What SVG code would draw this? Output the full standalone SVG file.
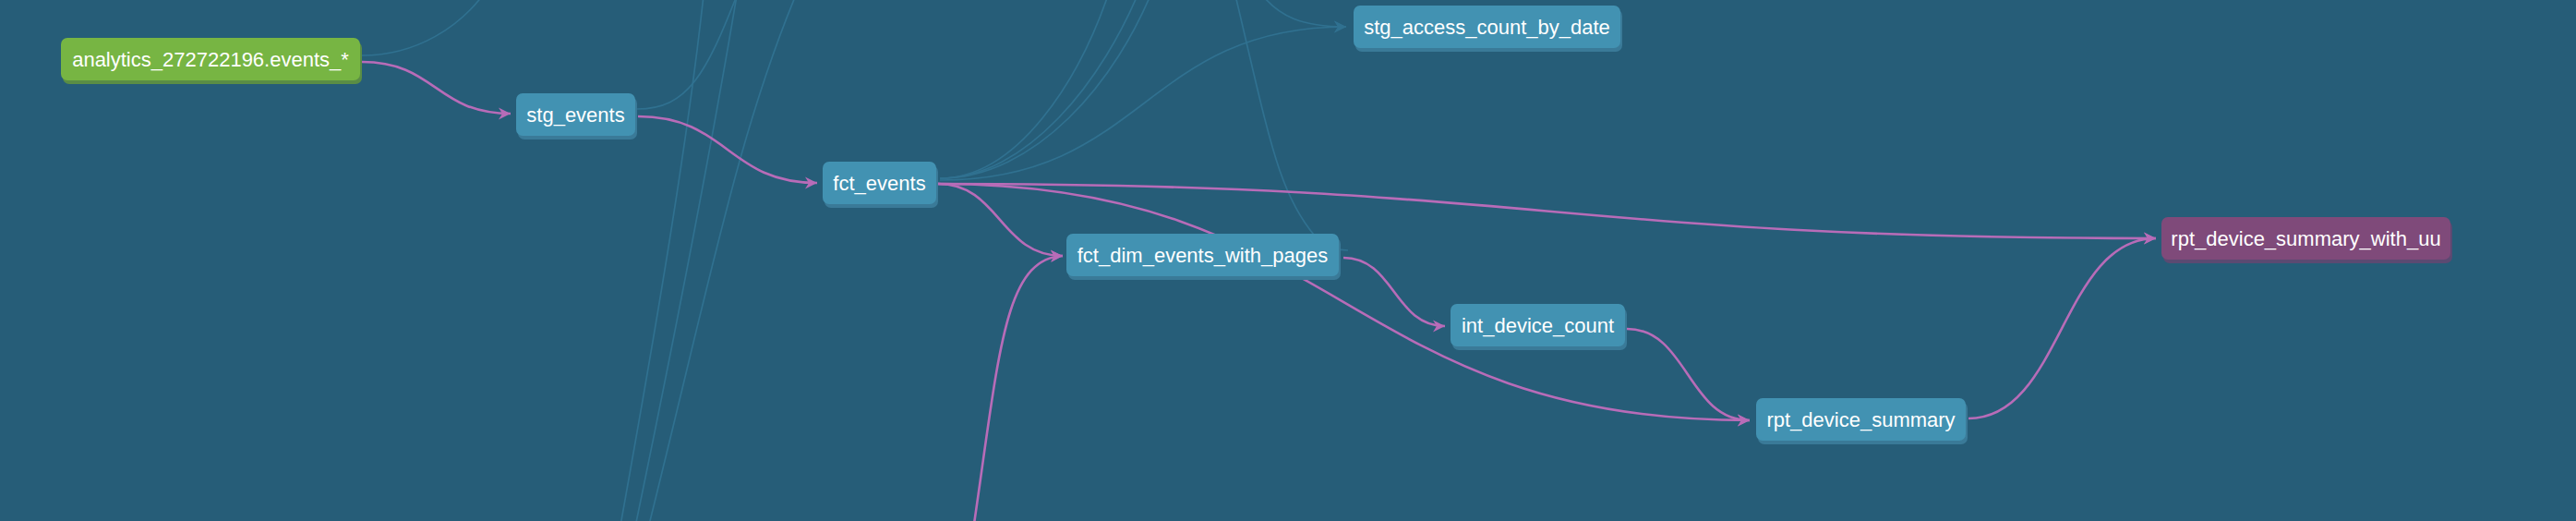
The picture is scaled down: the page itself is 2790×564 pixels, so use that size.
<svg xmlns="http://www.w3.org/2000/svg" width="2790" height="564" viewBox="0 0 2790 564">
<defs>
<style>
.bg{fill:#265D78}
.faint{fill:none;stroke:#307190;stroke-width:1.7}
.pink{fill:none;stroke:#B86CB8;stroke-width:2.6}
.nb{fill:#4292B2}
.nbs{fill:#3A7A98}
.ng{fill:#77B543}
.ngs{fill:#5A8D45}
.np{fill:#7F4A7A}
.nps{fill:#5B4A72}
.lbl{font-family:"Liberation Sans",Arial,sans-serif;font-size:22px;fill:#FFFFFF;text-anchor:middle}
</style>
<marker id="arrowPink" markerUnits="userSpaceOnUse" markerWidth="18" markerHeight="18" viewBox="-15 -9 18 18" refX="0" refY="0" orient="auto">
<path d="M-13,-6.5 L0,0 L-13,6.5 L-9,0 Z" fill="#B86CB8"/>
</marker>
<marker id="arrowFaint" markerUnits="userSpaceOnUse" markerWidth="18" markerHeight="18" viewBox="-15 -9 18 18" refX="0" refY="0" orient="auto">
<path d="M-13,-6.5 L0,0 L-13,6.5 L-9,0 Z" fill="#307190"/>
</marker>
</defs>
<rect class="bg" x="0" y="0" width="2790" height="564"/>

<g id="connectors">
<g id="faint-connectors">
<path class="faint" d="M392,60 C450,60 500,30 530,-15"/>
<path class="faint" d="M690,118 C745,118 765,80 800,-10"/>
<path class="faint" d="M762,-5 C745,150 715,330 670,580"/>
<path class="faint" d="M798,-5 C772,150 740,320 686,580"/>
<path class="faint" d="M866,-15 C800,140 770,300 700,580"/>
<path class="faint" d="M1018,193 C1100,193 1170,90 1205,-20"/>
<path class="faint" d="M1018,193 C1110,193 1195,90 1238,-20"/>
<path class="faint" d="M1018,193 C1120,193 1210,90 1252,-20"/>
<path class="faint" d="M1018,195 C1239,195 1239,29 1458,29" marker-end="url(#arrowFaint)"/>
<path class="faint" d="M1365,-8 C1385,18 1410,29 1458,29" marker-end="url(#arrowFaint)"/>
<path class="faint" d="M1338,-5 C1375,150 1385,215 1430,262 Q1445,271 1460,271"/>
</g>
<g id="lineage-connectors">
<path class="pink" d="M392,67 C472,67 472,123 553,123" marker-end="url(#arrowPink)"/>
<path class="pink" d="M691,126 C788,126 788,198 885,198" marker-end="url(#arrowPink)"/>
<path class="pink" d="M1016,199 C1675,199 1675,258 2335,258" marker-end="url(#arrowPink)"/>
<path class="pink" d="M1016,199 C1083,199 1083,277 1151,277" marker-end="url(#arrowPink)"/>
<path class="pink" d="M1016,199 C1455,199 1455,455 1895,455" marker-end="url(#arrowPink)"/>
<path class="pink" d="M1455,279 C1510,279 1510,353 1565,353" marker-end="url(#arrowPink)"/>
<path class="pink" d="M1762,356 C1828,356 1828,455 1895,455" marker-end="url(#arrowPink)"/>
<path class="pink" d="M2132,453 C2233,453 2233,258 2335,258" marker-end="url(#arrowPink)"/>
<path class="pink" d="M1051,594 C1082,390 1085,280 1151,277" marker-end="url(#arrowPink)"/>
</g>
</g>

<g id="node-analytics">
<rect class="ngs" x="68" y="45" width="324" height="46" rx="7"/>
<rect class="ng" x="66" y="41" width="324" height="46" rx="7"/>
<text class="lbl" x="228" y="72">analytics_272722196.events_*</text>
</g>
<g id="node-stg_events">
<rect class="nbs" x="561" y="105" width="129" height="46" rx="7"/>
<rect class="nb" x="559" y="101" width="129" height="46" rx="7"/>
<text class="lbl" x="623.5" y="132">stg_events</text>
</g>
<g id="node-fct_events">
<rect class="nbs" x="893" y="179" width="123" height="46" rx="7"/>
<rect class="nb" x="891" y="175" width="123" height="46" rx="7"/>
<text class="lbl" x="952.5" y="206">fct_events</text>
</g>
<g id="node-stg_access_count_by_date">
<rect class="nbs" x="1468" y="10" width="289" height="46" rx="7"/>
<rect class="nb" x="1466" y="6" width="289" height="46" rx="7"/>
<text class="lbl" x="1610.5" y="37">stg_access_count_by_date</text>
</g>
<g id="node-fct_dim_events_with_pages">
<rect class="nbs" x="1157" y="257" width="295" height="46" rx="7"/>
<rect class="nb" x="1155" y="253" width="295" height="46" rx="7"/>
<text class="lbl" x="1302.5" y="284">fct_dim_events_with_pages</text>
</g>
<g id="node-int_device_count">
<rect class="nbs" x="1573" y="333" width="189" height="46" rx="7"/>
<rect class="nb" x="1571" y="329" width="189" height="46" rx="7"/>
<text class="lbl" x="1665.5" y="360">int_device_count</text>
</g>
<g id="node-rpt_device_summary">
<rect class="nbs" x="1904" y="435" width="227" height="46" rx="7"/>
<rect class="nb" x="1902" y="431" width="227" height="46" rx="7"/>
<text class="lbl" x="2015.5" y="462">rpt_device_summary</text>
</g>
<g id="node-rpt_device_summary_with_uu">
<rect class="nps" x="2343" y="239" width="313" height="46" rx="7"/>
<rect class="np" x="2341" y="235" width="313" height="46" rx="7"/>
<text class="lbl" x="2497.5" y="266">rpt_device_summary_with_uu</text>
</g>
</svg>
